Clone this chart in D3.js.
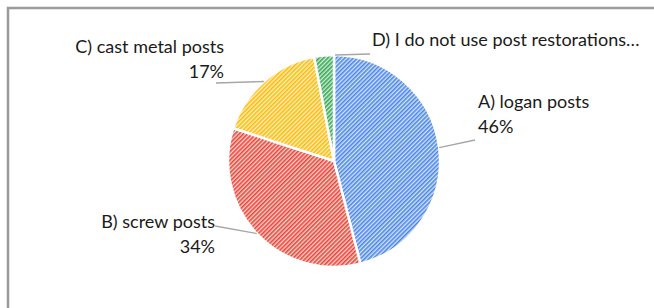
<!DOCTYPE html>
<html><head><meta charset="utf-8">
<script src="https://cdn.jsdelivr.net/npm/d3@7"></script>
<style>html,body{margin:0;padding:0;background:#fff;}svg{display:block;}</style>
</head><body>
<svg id="c" width="654" height="308"></svg>
<script>
const categories = ["A) logan posts","B) screw posts","C) cast metal posts","D) I do not use post restorations…"];
const values = [46, 34, 17, 3];
const pctLabels = ["46%","34%","17%",""];
const colors = ["#4a86e8","#ea4335","#fbbc04","#34a853"];
const tints  = ["#d6e4fb","#fbd5d2","#fef0c8","#d3ecd9"];

const svg = d3.select("#c");
const W = 654, H = 308;
// frame (top and left edges visible)
svg.append("rect").attr("x",8).attr("y",8).attr("width",W).attr("height",H)
  .attr("fill","#fff").attr("stroke","#9a9a9a").attr("stroke-width",2.5);

const defs = svg.append("defs");
colors.forEach((c,i)=>{
  const p = defs.append("pattern").attr("id","p"+i).attr("patternUnits","userSpaceOnUse")
    .attr("width",3).attr("height",3).attr("patternTransform","rotate(45)");
  p.append("rect").attr("width",3).attr("height",3).attr("fill",tints[i]);
  p.append("rect").attr("width",1.6).attr("height",3).attr("fill",c);
});

const cx = 334, cy = 161, R = 106;
const g = svg.append("g").attr("transform",`translate(${cx},${cy})`);
const pie = d3.pie().sort(null).value(d=>d);
const arcs = pie(values);
const arc = d3.arc().innerRadius(0).outerRadius(R);
g.selectAll("path").data(arcs).join("path")
  .attr("d",arc).attr("fill",(d,i)=>`url(#p${i})`)
  .attr("stroke","#fff").attr("stroke-width",2.5).attr("stroke-linejoin","round");

// leader lines
const font = "Lato, 'Open Sans', sans-serif";
const labelPos = [
  {lx:478, ly:108, anchor:"start", ex:475, ey:140},
  {lx:215, ly:228, anchor:"end",   ex:215, ey:226},
  {lx:224, ly:53,  anchor:"end",   ex:216, ey:83},
  {lx:372, ly:46,  anchor:"start", ex:370, ey:54}
];
arcs.forEach((d,i)=>{
  let a = (d.startAngle + d.endAngle)/2;
  if (i===3) a = d.endAngle + 0.01;
  const sx = cx + Math.sin(a)*R, sy = cy - Math.cos(a)*R;
  const lp = labelPos[i];
  svg.append("line").attr("x1",sx).attr("y1",sy).attr("x2",lp.ex).attr("y2",lp.ey)
    .attr("stroke","#a6a6a6").attr("stroke-width",1.3);
});
labelPos.forEach((lp,i)=>{
  const t = svg.append("text").attr("x",lp.lx).attr("y",lp.ly)
    .attr("text-anchor",lp.anchor).attr("font-family",font).attr("font-size",18).attr("fill","#1a1a1a");
  t.append("tspan").attr("x",lp.lx).text(categories[i]);
  if (pctLabels[i]) t.append("tspan").attr("x",lp.lx).attr("dy",25).text(pctLabels[i]);
});
</script>
</body></html>
